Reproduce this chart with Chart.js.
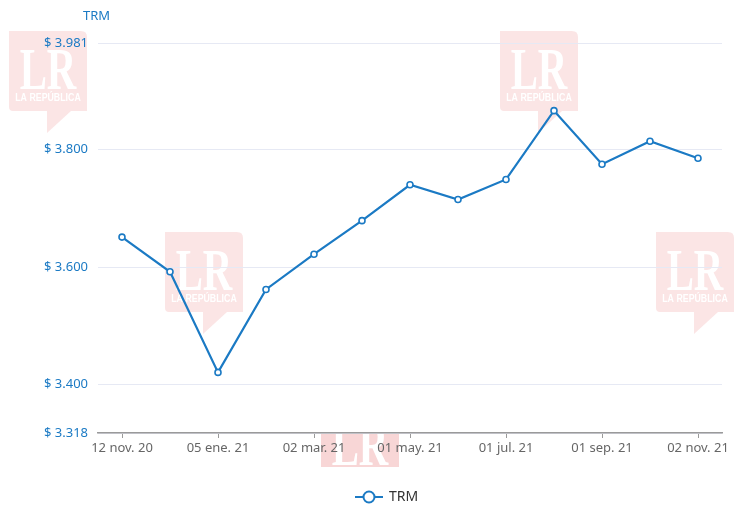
<!DOCTYPE html>
<html>
<head>
<meta charset="utf-8">
<script src="https://cdn.jsdelivr.net/npm/chart.js@4/dist/chart.umd.min.js"></script>
<style>
  html, body { margin: 0; padding: 0; background: #fff; }
</style>
</head>
<body>
<canvas id="chart" width="736" height="518"></canvas>
<script>
// data
const categories = ['12 nov. 20', '', '05 ene. 21', '', '02 mar. 21', '', '01 may. 21', '', '01 jul. 21', '', '01 sep. 21', '', '02 nov. 21'];
const trmValues = [3651, 3592, 3421, 3562, 3622, 3679, 3740, 3715, 3749, 3866, 3775, 3814, 3785];
const yTicks = [3318, 3400, 3600, 3800, 3981];
const seriesName = 'TRM';

const blue = '#1b7ac4';
const labelFont = '"Noto Sans", "DejaVu Sans", sans-serif';

function money(v) {
    return '$ ' + String(v).replace(/\B(?=(\d{3})+(?!\d))/g, '.');
}

// "LR La República" watermark boxes behind the chart
function drawMark(ctx, x, y, alpha) {
    ctx.save();
    ctx.fillStyle = 'rgba(225, 70, 70, ' + alpha + ')';
    ctx.beginPath();
    ctx.moveTo(x, y);
    ctx.lineTo(x + 72, y);
    ctx.quadraticCurveTo(x + 78, y, x + 78, y + 6);
    ctx.lineTo(x + 78, y + 80);
    ctx.lineTo(x + 62, y + 80);
    ctx.lineTo(x + 38, y + 102);
    ctx.lineTo(x + 38, y + 80);
    ctx.lineTo(x + 4, y + 80);
    ctx.quadraticCurveTo(x, y + 80, x, y + 76);
    ctx.closePath();
    ctx.fill();
    ctx.fillStyle = '#fff';
    ctx.save();
    ctx.translate(x + 39, y + 58);
    ctx.scale(0.68, 1);
    ctx.font = 'bold 60px "Liberation Serif", "DejaVu Serif", serif';
    ctx.textAlign = 'center';
    ctx.textBaseline = 'alphabetic';
    ctx.fillText('LR', 0, 0);
    ctx.restore();
    ctx.save();
    ctx.translate(x + 39, y + 67);
    ctx.scale(0.8, 1);
    ctx.font = 'bold 11px "Liberation Sans", Arial, sans-serif';
    ctx.textAlign = 'center';
    ctx.textBaseline = 'middle';
    ctx.fillText('LA REPÚBLICA', 0, 0);
    ctx.restore();
    ctx.restore();
}

const decorations = {
    id: 'decorations',
    beforeDraw(chart) {
        const ctx = chart.ctx;
        ctx.save();
        ctx.fillStyle = '#fff';
        ctx.fillRect(0, 0, chart.width, chart.height);
        ctx.restore();
        drawMark(ctx, 9, 31, 0.14);
        drawMark(ctx, 165, 232, 0.14);
        drawMark(ctx, 500, 31, 0.14);
        drawMark(ctx, 656, 232, 0.14);
        // partly hidden mark under the x axis
        ctx.save();
        ctx.beginPath();
        ctx.rect(320, 434, 82, 33);
        ctx.clip();
        drawMark(ctx, 321, 407, 0.22);
        ctx.restore();
    },
    afterDraw(chart) {
        const ctx = chart.ctx;
        ctx.save();
        // axis title above the y axis
        ctx.fillStyle = blue;
        ctx.font = '13px ' + labelFont;
        ctx.textBaseline = 'middle';
        ctx.textAlign = 'left';
        ctx.fillText(seriesName, 83, 16);
        // legend
        const ly = 497;
        ctx.strokeStyle = blue;
        ctx.lineWidth = 2;
        ctx.beginPath();
        ctx.moveTo(355, ly);
        ctx.lineTo(383, ly);
        ctx.stroke();
        ctx.beginPath();
        ctx.arc(369, ly, 5.5, 0, Math.PI * 2);
        ctx.fillStyle = '#fff';
        ctx.fill();
        ctx.stroke();
        ctx.fillStyle = '#333';
        ctx.font = '14px ' + labelFont;
        ctx.fillText(seriesName, 389, ly);
        ctx.restore();
    }
};

const chart = new Chart(document.getElementById('chart').getContext('2d'), {
    type: 'line',
    data: {
        labels: categories,
        datasets: [{
            label: seriesName,
            data: trmValues,
            borderColor: blue,
            borderWidth: 2.2,
            tension: 0,
            pointRadius: 3,
            pointBorderWidth: 1.6,
            pointBackgroundColor: '#fff',
            pointBorderColor: blue
        }]
    },
    options: {
        responsive: false,
        animation: false,
        layout: { padding: { top: 43, right: 14, bottom: 55, left: 0 } },
        plugins: {
            legend: { display: false },
            tooltip: { enabled: false }
        },
        scales: {
            x: {
                offset: true,
                afterFit: (scale) => { scale.height = 30; },
                border: { color: '#9a9a9a', width: 1.5 },
                grid: {
                    drawOnChartArea: false,
                    tickLength: 5,
                    tickColor: (c) => (c.index % 2 ? 'rgba(0,0,0,0)' : '#9a9a9a')
                },
                ticks: {
                    autoSkip: false,
                    maxRotation: 0,
                    padding: 2,
                    color: '#666',
                    font: { family: labelFont, size: 13 }
                }
            },
            y: {
                min: yTicks[0],
                max: yTicks[yTicks.length - 1],
                afterFit: (scale) => { scale.width = 98; },
                afterBuildTicks: (scale) => { scale.ticks = yTicks.map(v => ({ value: v })); },
                border: { display: false },
                grid: { color: '#e6e9f4', lineWidth: 1, drawTicks: false },
                ticks: {
                    padding: 10,
                    color: blue,
                    font: { family: labelFont, size: 13 },
                    callback: (v) => money(v)
                }
            }
        }
    },
    plugins: [decorations]
});
</script>
</body>
</html>
